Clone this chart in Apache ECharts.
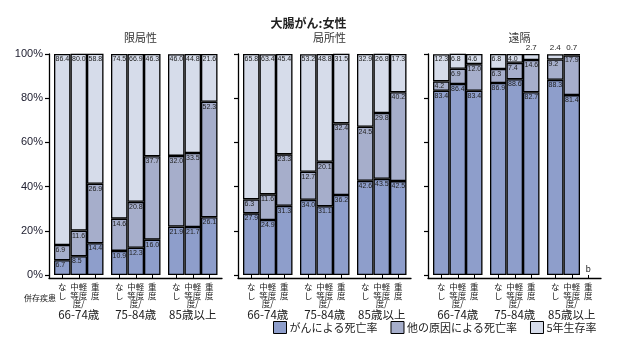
<!DOCTYPE html>
<html><head><meta charset="utf-8">
<script src="https://cdn.jsdelivr.net/npm/echarts@6/dist/echarts.min.js"></script>
<style>html,body{margin:0;padding:0;background:#fff}#c{width:617px;height:341px}</style>
</head><body><div id="c"></div>
<script>
const mainTitle = '大腸がん:女性';
const panels = ['限局性', '局所性', '遠隔'];
const ageGroups = ['66-74歳', '75-84歳', '85歳以上'];
const comorbidity = ['なし', '中等度/軽度', '重度'];
const comorbidityTitle = '併存疾患';
const seriesNames = ['がんによる死亡率', '他の原因による死亡率', '5年生存率'];
const missingNote = 'b';

// values ordered: age group x comorbidity
const cancerLocalized = [6.7, 8.5, 14.4, 10.9, 12.3, 16.0, 21.9, 21.7, 26.1];
const otherLocalized  = [6.9, 11.6, 26.9, 14.6, 20.8, 37.7, 32.0, 33.5, 52.3];
const survLocalized   = [86.4, 80.0, 58.8, 74.5, 66.9, 46.3, 46.0, 44.8, 21.6];

const cancerRegional = [27.9, 24.9, 31.3, 34.0, 31.1, 36.2, 42.6, 43.5, 42.5];
const otherRegional  = [6.3, 11.6, 23.3, 12.7, 20.1, 32.4, 24.5, 29.8, 40.2];
const survRegional   = [65.8, 63.4, 45.4, 53.2, 48.8, 31.5, 32.9, 26.8, 17.3];

const cancerDistant = [83.4, 86.4, 83.4, 86.9, 88.6, 82.7, 88.3, 81.4, null];
const otherDistant  = [4.2, 6.9, 12.0, 6.3, 7.4, 14.6, 9.2, 17.9, null];
const survDistant   = [12.3, 6.8, 4.6, 6.8, 4.0, 2.7, 2.4, 0.7, null];

const yTicks = [0, 20, 40, 60, 80, 100];

(function () {
const panelData = [
  [cancerLocalized, otherLocalized, survLocalized],
  [cancerRegional, otherRegional, survRegional],
  [cancerDistant, otherDistant, survDistant]
];

const colors = ['#8e9ecb', '#a6aecb', '#d6dcea'];
const jp = '"Noto Sans CJK JP", sans-serif';
const txt = '#222';
const numFont = '"Liberation Sans", sans-serif';

const panelLeft = [54, 243, 433];
const groupStep = 57, groupW = 49.5, gTop = 54, gHeight = 221;

const grid = [], xAxis = [], yAxis = [], series = [], title = [];

title.push({text: mainTitle, left: 'center', top: 12, textStyle: {fontFamily: jp, fontSize: 12, fontWeight: 'bold', color: txt}});
panels.forEach((p, i) => {
  const cx = panelLeft[i] - 5 + 173 / 2;
  title.push({text: p, left: cx, top: 27, textAlign: 'center', textStyle: {fontFamily: jp, fontSize: 11, fontWeight: 'normal', color: '#333'}});
});
title.push({text: comorbidityTitle, left: 19, top: 289, textStyle: {fontFamily: jp, fontSize: 8, fontWeight: 'normal', color: txt}});

function catFmt(v) {
  if (v.indexOf('/') >= 0) {
    const parts = v.split('/');
    const a = parts[0], b = parts[1];
    const rows = [];
    for (let i = 0; i < Math.max(a.length, b.length); i++) rows.push((a[i] || ' ') + (b[i] || '/'));
    return rows.join('\n');
  }
  return v.split('').join('\n');
}

// frame grids (axis lines)
panels.forEach((p, pi) => {
  const gi = grid.length;
  grid.push({left: panelLeft[pi] - 5, top: gTop, width: 173, height: 224});
  xAxis.push({gridIndex: gi, type: 'value', min: 0, max: 1, axisLine: {show: true, lineStyle: {color: '#000', width: 1.3}}, axisTick: {show: false}, axisLabel: {show: false}, splitLine: {show: false}});
  yAxis.push({gridIndex: gi, type: 'value', min: 0, max: 1, axisLine: {show: true, lineStyle: {color: '#000', width: 1.3}}, axisTick: {show: false}, axisLabel: {show: false}, splitLine: {show: false}});
});

panels.forEach((p, pi) => {
  ageGroups.forEach((ag, g) => {
    const gi = grid.length;
    grid.push({left: panelLeft[pi] + g * groupStep, top: gTop, width: groupW, height: gHeight});
    xAxis.push({
      gridIndex: gi, type: 'category', data: comorbidity, offset: 3,
      axisLine: {show: false},
      axisTick: {show: true, alignWithLabel: true, length: 4, lineStyle: {color: '#000', width: 1}},
      axisLabel: {interval: 0, margin: 5, fontFamily: jp, fontSize: 8.5, lineHeight: 8.5, color: txt, formatter: catFmt},
      name: ag, nameLocation: 'middle', nameGap: 31, nameMoveOverlap: false,
      nameTextStyle: {fontFamily: jp, fontSize: 11.5, color: txt}
    });
    yAxis.push({
      gridIndex: gi, type: 'value', min: 0, max: 100, interval: 20, show: g === 0, offset: 5,
      axisLine: {show: false},
      axisTick: {show: true, length: 4, lineStyle: {color: '#000', width: 1.2}},
      axisLabel: {show: pi === 0, margin: 6, formatter: '{value}%', fontFamily: numFont, fontSize: 11, color: '#223'},
      splitLine: {show: false}
    });
    seriesNames.forEach((sn, si) => {
      const vals = panelData[pi][si].slice(g * 3, g * 3 + 3);
      const data = vals.map(v => {
        if (v === null) {
          if (si === 0) return {value: 0, itemStyle: {borderWidth: 0, color: 'rgba(0,0,0,0)'},
            label: {show: true, position: 'top', distance: 1, formatter: missingNote, fontSize: 9, fontFamily: numFont, color: txt}};
          return '-';
        }
        if (v < 3) return {value: v, label: {position: 'top', distance: 2, fontSize: 8}};
        return v;
      });
      series.push({
        type: 'bar', name: sn, xAxisIndex: gi, yAxisIndex: gi, stack: 's' + gi,
        barCategoryGap: '0%', barGap: '0%', data: data,
        itemStyle: {color: colors[si], borderColor: '#000', borderWidth: 1.3},
        label: {show: true, position: 'insideTopLeft', distance: 1.5, fontSize: 7,
          fontFamily: numFont, color: txt,
          formatter: p => (typeof p.value === 'number' ? p.value.toFixed(1) : '')},
        emphasis: {disabled: true}, animation: false
      });
    });
  });
});

const chart = echarts.init(document.getElementById('c'), null, {renderer: 'canvas'});
chart.setOption({
  animation: false,
  title: title,
  legend: {
    data: seriesNames, left: 268, top: 316, itemWidth: 13, itemHeight: 12, itemGap: 13,
    icon: 'rect',
    itemStyle: {borderColor: '#000', borderWidth: 1},
    textStyle: {fontFamily: jp, fontSize: 11, color: txt, padding: [0, 0, 0, -2]}
  },
  grid: grid, xAxis: xAxis, yAxis: yAxis, series: series
});
})();
</script></body></html>
